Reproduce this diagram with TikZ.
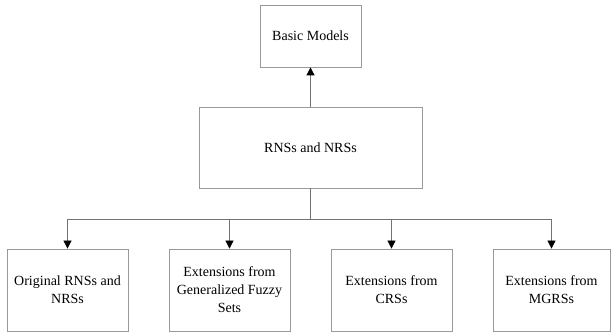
\documentclass[tikz,border=0pt]{standalone}
\usepackage{fontspec}
\setmainfont{Liberation Serif}
\usetikzlibrary{arrows.meta}

\begin{document}
\begin{tikzpicture}[x=1pt,y=-1pt]
  \tikzstyle{box} = [draw=black!40,line width=.8pt,inner sep=2pt,align=center,
                     font=\fontsize{14}{18}\selectfont]
  \tikzstyle{leaf} = [box,minimum width=121pt,minimum height=82pt]
  \tikzstyle{link} = [draw=black!55,line width=.8pt]
  \tikzstyle{tip} = [link,-{Triangle[length=8pt,width=8pt,black]}]
  \useasboundingbox (0,0) rectangle (611,336);
  %%
  \node[box,minimum width=101pt,minimum height=62pt] (basic) at (310.5,36) {Basic Models};
  \node[box,minimum width=223pt,minimum height=81pt] (rns) at (310.5,147.5) {RNSs and NRSs};
  %%
  \node[leaf] (orig) at (67.5,290) {Original RNSs and\\NRSs};
  \node[leaf] (fuzzy) at (229.5,290) {Extensions from\\Generalized Fuzzy\\Sets};
  \node[leaf] (crs) at (391.5,290) {Extensions from\\CRSs};
  \node[leaf,minimum width=117pt] (mgrs) at (551.5,290) {Extensions from\\MGRSs};
  %%
  \coordinate (bus) at (310.5,219);
  \path [tip] (rns) to (basic);
  \path [link] (rns) to (bus);
  \path [tip] (bus) -| (orig.north);
  \path [tip] (bus) -| (fuzzy.north);
  \path [tip] (bus) -| (crs.north);
  \path [tip] (bus) -| (mgrs.north);
\end{tikzpicture}
\end{document}
